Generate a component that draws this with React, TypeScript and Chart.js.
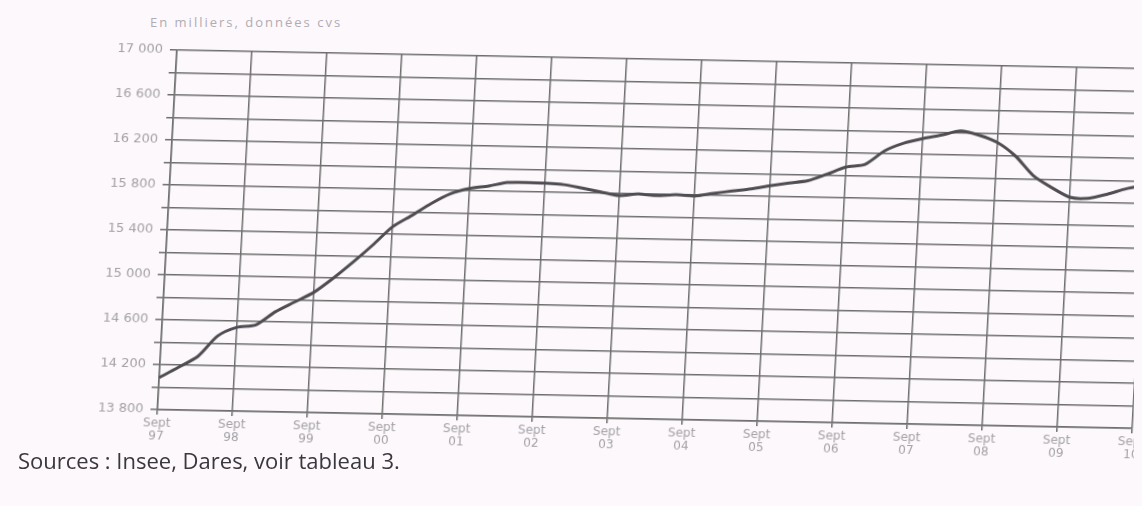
import React, { useEffect, useRef } from "react";
import { Chart, registerables } from "chart.js";

Chart.register(...registerables);

// Quarterly observations, from Sept 1997 to Sept 2010 (thousands, s.a.)
const years = ["97", "98", "99", "00", "01", "02", "03", "04", "05", "06", "07", "08", "09", "10"];
const quarterMonths = ["Sept", "Déc", "Mars", "Juin"];

const employment = [
  14085, 14180, 14280, 14465,
  14545, 14570, 14690, 14780,
  14870, 15000, 15145, 15300,
  15465, 15570, 15680, 15770,
  15820, 15845, 15880, 15882,
  15880, 15870, 15842, 15812,
  15782, 15800, 15788, 15800,
  15792, 15818, 15842, 15865,
  15895, 15922, 15946, 16008,
  16075, 16102, 16225, 16297,
  16340, 16375, 16415, 16380,
  16318, 16200, 16030, 15928,
  15845, 15838, 15878, 15930,
  15965,
];

const yMin = 13800;
const yMax = 17000;
const yGridStep = 200;
const yLabelStep = 400;

const unitNote = "En milliers, données cvs";
const sourceNote = "Sources : Insee, Dares, voir tableau 3.";

// quarter labels: Sept yy, Déc yy, Mars yy+1, Juin yy+1
const quarterLabels: string[] = [];
for (let i = 0; i < employment.length; i++) {
  const q = i % 4;
  const yi = Math.floor(i / 4) + (q >= 2 ? 1 : 0);
  quarterLabels.push(`${quarterMonths[q]} ${years[Math.min(yi, years.length - 1)]}`);
}

function formatThousands(v: number): string {
  const th = Math.floor(v / 1000);
  const rest = String(v % 1000).padStart(3, "0");
  return `${th} ${rest}`;
}

const BG = "#fcf8fc";

export default function App() {
  const canvasRef = useRef<HTMLCanvasElement | null>(null);

  useEffect(() => {
    document.body.style.background = BG;
    const canvas = canvasRef.current;
    if (!canvas) return;
    const gridColor = "#6e6e6e";
    const tickTextColor = "#a4a2a6";
    const chart = new Chart(canvas, {
      type: "line",
      data: {
        labels: quarterLabels,
        datasets: [
          {
            data: employment,
            borderColor: "#4f4d52",
            borderWidth: 3,
            pointRadius: 0,
            tension: 0.25,
            fill: false,
          },
        ],
      },
      options: {
        animation: false,
        responsive: false,
        maintainAspectRatio: false,
        layout: { padding: { left: 0, top: 42, right: 46, bottom: 0 } },
        plugins: {
          legend: { display: false },
          tooltip: { enabled: false },
          title: { display: false },
        },
        scales: {
          x: {
            type: "category",
            offset: false,
            grid: {
              color: (ctx: any) => (ctx.index % 4 === 0 ? gridColor : "rgba(0,0,0,0)"),
              lineWidth: 1.5,
              tickLength: 5,
            },
            border: { display: true, color: gridColor, width: 1.5 },
            ticks: {
              autoSkip: false,
              maxRotation: 0,
              minRotation: 0,
              padding: 3,
              color: tickTextColor,
              font: { family: "DejaVu Sans", size: 12, lineHeight: 1.05 },
              callback: (_v: any, i: number) => {
                if (i % 4 !== 0) return "";
                return ["Sept", years[i / 4]];
              },
            },
            afterFit: (scale: any) => {
              scale.height = 38;
            },
          },
          y: {
            min: yMin,
            max: yMax,
            grid: { color: gridColor, lineWidth: 1.5, tickLength: 7 },
            border: { display: true, color: gridColor, width: 1.5 },
            ticks: {
              stepSize: yGridStep,
              autoSkip: false,
              padding: 7,
              color: tickTextColor,
              font: { family: "DejaVu Sans", size: 13 },
              callback: (v: any) => {
                const n = Number(v);
                return (n - yMin) % yLabelStep === 0 ? formatThousands(n) : "";
              },
            },
            afterFit: (scale: any) => {
              scale.width = 159;
            },
          },
        },
      },
    });
    return () => chart.destroy();
  }, []);

  return (
    <div style={{ position: "relative", width: 1134, height: 490, overflow: "hidden", background: BG }}>
      <div
        style={{
          position: "absolute",
          left: 142,
          top: 7,
          fontFamily: "'Open Sans', sans-serif",
          fontSize: 13,
          lineHeight: "15px",
          letterSpacing: "2px",
          color: "#b0acb2",
          whiteSpace: "nowrap",
        }}
      >
        {unitNote}
      </div>
      <div
        style={{
          position: "absolute",
          left: 0,
          top: 0,
          width: 1180,
          height: 440,
          transformOrigin: "159px 225px",
          transform: "rotate(1.1deg) skewX(-2deg)",
        }}
      >
        <canvas ref={canvasRef} width={1180} height={440} style={{ width: 1180, height: 440, display: "block" }} />
      </div>
      <div
        style={{
          position: "absolute",
          left: 10,
          top: 441,
          fontFamily: "'Open Sans', sans-serif",
          fontSize: 22,
          lineHeight: "22px",
          color: "#3a383e",
          whiteSpace: "nowrap",
        }}
      >
        {sourceNote}
      </div>
    </div>
  );
}
